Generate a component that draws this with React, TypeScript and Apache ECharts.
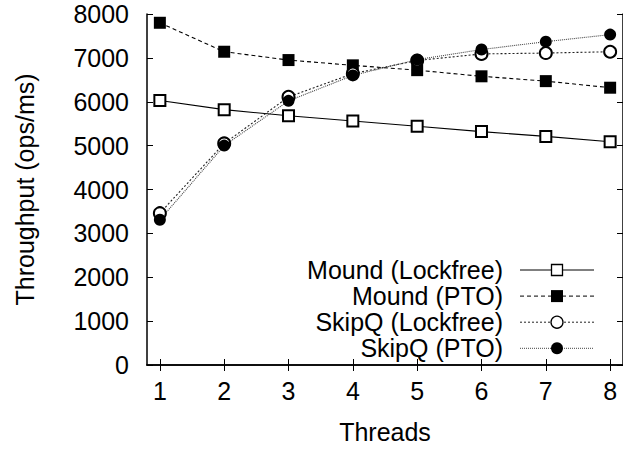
import React, { useEffect, useRef } from "react";
import * as echarts from "echarts";

const threads = [1, 2, 3, 4, 5, 6, 7, 8];
const moundLockfree = [6030, 5820, 5680, 5560, 5440, 5320, 5210, 5090];
const moundPTO = [7800, 7140, 6950, 6830, 6720, 6580, 6470, 6320];
const skipqLockfree = [3460, 5050, 6110, 6640, 6940, 7090, 7110, 7140];
const skipqPTO = [3310, 5000, 6020, 6600, 6960, 7190, 7370, 7530];
const seriesNames = ["Mound (Lockfree)", "Mound (PTO)", "SkipQ (Lockfree)", "SkipQ (PTO)"];
const yTicks = [0, 1000, 2000, 3000, 4000, 5000, 6000, 7000, 8000];

const FONT = "Liberation Sans";
const FS = 25;

const styles = [
  { symbol: "emptyRect", size: 11, filled: false, square: true, color: "#000", dash: null as number[] | null },
  { symbol: "rect", size: 12, filled: true, square: true, color: "#000", dash: [4, 3] },
  { symbol: "emptyCircle", size: 12, filled: false, square: false, color: "#222", dash: [2, 2] },
  { symbol: "circle", size: 12, filled: true, square: false, color: "#444", dash: [1, 1] },
];

function pairs(vals: number[]) {
  return threads.map((t, i) => [t, vals[i]]);
}

export default function App() {
  const ref = useRef<HTMLDivElement>(null);
  useEffect(() => {
    if (!ref.current) return;
    const chart = echarts.init(ref.current, null, { renderer: "svg" });
    const axisLine = { show: true, lineStyle: { color: "#000", width: 1.5 } };
    const tick = { show: true, inside: true, length: 6, lineStyle: { color: "#000", width: 1 } };
    const plain = (v: number) => String(v);
    const values = [moundLockfree, moundPTO, skipqLockfree, skipqPTO];

    // legend drawn as graphic (text right-aligned, sample line + marker on the right)
    const legendEls: any[] = [];
    seriesNames.forEach((name, i) => {
      const st = styles[i];
      const cy = 270 + 26.1 * i;
      legendEls.push({
        type: "text",
        x: 503,
        y: cy,
        style: { text: name, fontSize: FS, fontFamily: FONT, fill: "#000", align: "right", verticalAlign: "middle" },
      });
      legendEls.push({
        type: "line",
        shape: { x1: 520, y1: cy, x2: 594, y2: cy },
        style: { stroke: st.color, lineWidth: 1, lineDash: st.dash || undefined },
      });
      const half = st.size / 2;
      const markerStyle = st.filled
        ? { fill: "#000", stroke: "#000", lineWidth: 0 }
        : { fill: "#fff", stroke: "#000", lineWidth: 1.3 };
      if (st.square) {
        legendEls.push({ type: "rect", shape: { x: 557 - half, y: cy - half, width: st.size, height: st.size }, style: markerStyle });
      } else {
        legendEls.push({ type: "circle", shape: { cx: 557, cy, r: half }, style: markerStyle });
      }
    });

    chart.setOption({
      animation: false,
      backgroundColor: "#fff",
      textStyle: { fontFamily: FONT },
      grid: { left: 147, top: 14, right: -2.6, bottom: 82, containLabel: false },
      xAxis: [
        {
          type: "value",
          position: "bottom",
          min: 0.8,
          max: 8.2,
          name: "Threads",
          nameLocation: "middle",
          nameGap: 54,
          nameTextStyle: { fontSize: FS, color: "#000", fontFamily: FONT },
          axisLine,
          axisTick: { ...tick, customValues: threads },
          axisLabel: { customValues: threads, formatter: plain, fontSize: FS, color: "#000", fontFamily: FONT, margin: 13 },
          splitLine: { show: false },
        },
        {
          type: "value",
          position: "top",
          min: 0.8,
          max: 8.2,
          axisLine,
          axisTick: { ...tick, customValues: threads },
          axisLabel: { show: false },
          splitLine: { show: false },
        },
      ],
      yAxis: [
        {
          type: "value",
          position: "left",
          min: 0,
          max: 8000,
          interval: 1000,
          name: "Throughput (ops/ms)",
          nameLocation: "middle",
          nameGap: 110,
          nameTextStyle: { fontSize: FS, color: "#000", fontFamily: FONT },
          axisLine,
          axisTick: { ...tick, customValues: yTicks },
          axisLabel: { customValues: yTicks, formatter: plain, fontSize: FS, color: "#000", fontFamily: FONT, margin: 18 },
          splitLine: { show: false },
        },
        {
          type: "value",
          position: "right",
          min: 0,
          max: 8000,
          interval: 1000,
          axisLine,
          axisTick: { ...tick, customValues: yTicks },
          axisLabel: { show: false },
          splitLine: { show: false },
        },
      ],
      legend: { show: false },
      graphic: legendEls,
      series: seriesNames.map((name, i) => ({
        name,
        type: "line",
        data: pairs(values[i]),
        symbol: styles[i].symbol,
        symbolSize: styles[i].size,
        lineStyle: { color: styles[i].color, width: 1.1, type: styles[i].dash || "solid" },
        itemStyle: styles[i].filled ? { color: "#000" } : { color: "#000", borderWidth: 1.3 },
      })),
    });
    return () => chart.dispose();
  }, []);
  return (
    <div
      ref={ref}
      style={{ position: "fixed", left: 0, top: 0, width: 623, height: 449, background: "#fff" }}
    />
  );
}
